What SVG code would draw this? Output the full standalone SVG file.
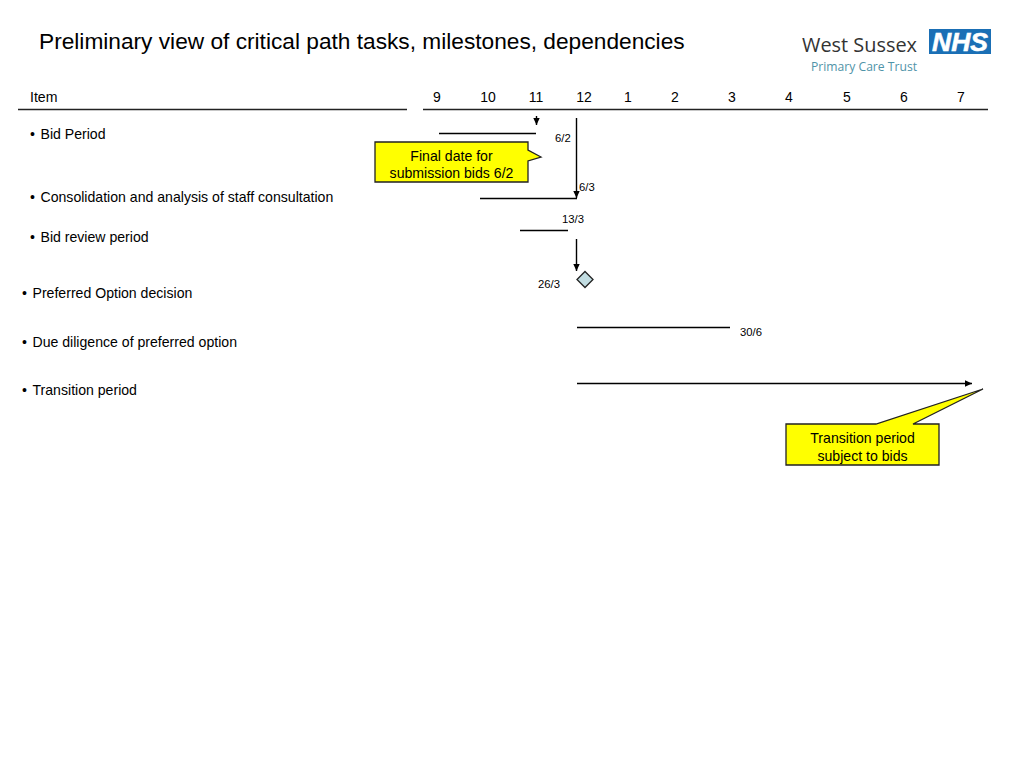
<svg xmlns="http://www.w3.org/2000/svg" width="1024" height="768" viewBox="0 0 1024 768">
<style>
text{font-family:"Liberation Sans",Arial,sans-serif;fill:#000}
.t{font-size:14.100px}
.h{font-size:14px;text-anchor:middle}
.s{font-size:11.300px}
.c{font-size:14.100px;text-anchor:middle}
.ln{stroke:#000;stroke-width:1.400;fill:none}
.hd{stroke:#222;stroke-width:1.500;fill:none}
.call{fill:#ffff00;stroke:#222;stroke-width:1.300}
</style>
<defs><marker id="a" markerWidth="9" markerHeight="8" refX="7" refY="4" orient="auto" markerUnits="userSpaceOnUse"><path d="M0 .8L7 4L0 7.200z" fill="#000"/></marker></defs>
<rect width="1024" height="768" fill="#fff"/>
<g id="title"><text x="39" y="49" font-size="22.700">Preliminary view of critical path tasks, milestones, dependencies</text></g>
<g id="logo">
<rect x="929" y="29" width="62" height="25" fill="#1a6fb5"/>
<text x="960" y="50.500" font-size="26" font-weight="bold" font-style="italic" text-anchor="middle" textLength="56" lengthAdjust="spacingAndGlyphs" style="fill:#fff;stroke:#fff;stroke-width:.6">NHS</text>
<text x="802" y="52" font-size="20" font-weight="500" textLength="115" lengthAdjust="spacingAndGlyphs" style="fill:#333;font-family:'Open Sans',sans-serif">West Sussex</text>
<text x="811" y="71" font-size="12" font-weight="500" textLength="106" lengthAdjust="spacingAndGlyphs" style="fill:#4f93a8;font-family:'Open Sans',sans-serif">Primary Care Trust</text>
</g>
<g id="header">
<text x="30" y="101.500" class="t">Item</text>
<text x="437" y="101.500" class="h">9</text><text x="488" y="101.500" class="h">10</text><text x="536" y="101.500" class="h">11</text><text x="584" y="101.500" class="h">12</text><text x="628" y="101.500" class="h">1</text><text x="675" y="101.500" class="h">2</text><text x="732" y="101.500" class="h">3</text><text x="789" y="101.500" class="h">4</text><text x="847" y="101.500" class="h">5</text><text x="904" y="101.500" class="h">6</text><text x="961" y="101.500" class="h">7</text>
<path class="hd" d="M18 109.500H407M423 109.500H988"/>
</g>
<g id="connectors">
<path class="ln" d="M439 133.500H536"/>
<path class="ln" d="M536.500 116V125" marker-end="url(#a)"/>
<path class="ln" d="M576.500 118V198" marker-end="url(#a)"/>
<path class="ln" d="M480 198.500H577"/>
<path class="ln" d="M520 230.500H568"/>
<path class="ln" d="M576.500 239V271" marker-end="url(#a)"/>
<path class="ln" d="M577 327.500H730"/>
<path class="ln" d="M577 383.500H972" marker-end="url(#a)"/>
</g>
<g id="items">
<text x="30" y="138.500" class="t">•</text><text x="40.500" y="138.500" class="t">Bid Period</text>
<text x="30" y="201.500" class="t">•</text><text x="40.500" y="201.500" class="t">Consolidation and analysis of staff consultation</text>
<text x="30" y="241.500" class="t">•</text><text x="40.500" y="241.500" class="t">Bid review period</text>
<text x="22" y="298" class="t">•</text><text x="32.500" y="298" class="t">Preferred Option decision</text>
<text x="22" y="346.500" class="t">•</text><text x="32.500" y="346.500" class="t">Due diligence of preferred option</text>
<text x="22" y="395" class="t">•</text><text x="32.500" y="395" class="t">Transition period</text>
</g>
<g id="dates">
<text x="555" y="142" class="s">6/2</text>
<text x="579" y="191" class="s">6/3</text>
<text x="562" y="223" class="s">13/3</text>
<text x="538" y="287.500" class="s">26/3</text>
<text x="740" y="336" class="s">30/6</text>
</g>
<g id="milestone"><path d="M585 271.500L593 279.500L585 287.500L577 279.500z" fill="#c2dde2" stroke="#222" stroke-width="1.300"/></g>
<g id="callout-final">
<path class="call" d="M375 142H528V150L541 157L528 161V182H375z"/>
<text x="451.500" y="160.500" class="c">Final date for</text>
<text x="451.500" y="178" class="c">submission bids 6/2</text>
</g>
<g id="callout-transition">
<path class="call" d="M786 424H876L983 389L913 424H939V465H786z"/>
<text x="862.500" y="443" class="c">Transition period</text>
<text x="862.500" y="461" class="c">subject to bids</text>
</g>
</svg>
